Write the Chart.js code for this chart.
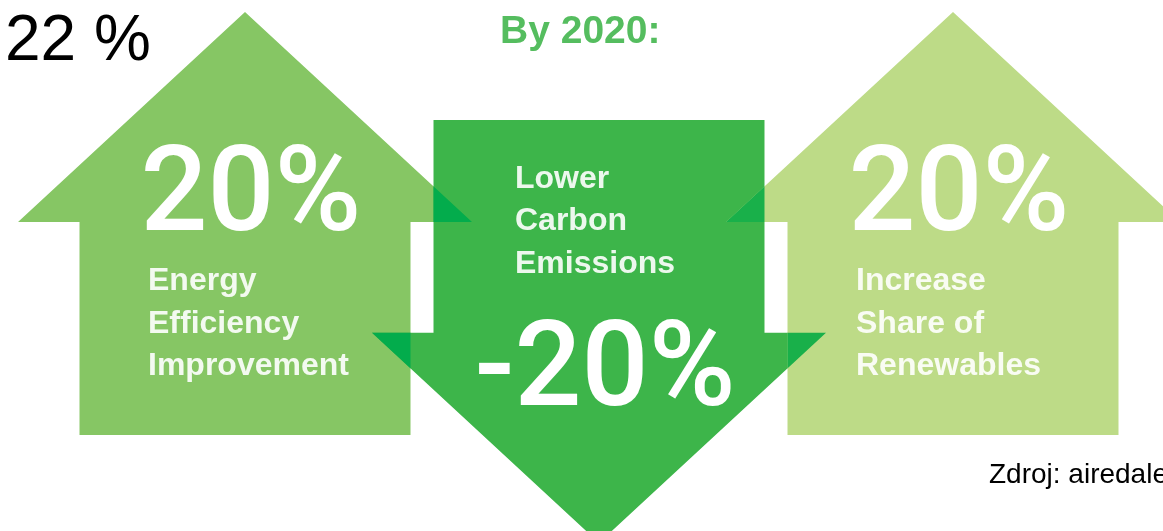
<!DOCTYPE html>
<html>
<head>
<meta charset="utf-8">
<script src="https://cdn.jsdelivr.net/npm/chart.js@4.4.1/dist/chart.umd.min.js"></script>
<style>
  html, body { margin: 0; padding: 0; background: #fff; }
  #wrap { width: 1163px; height: 531px; position: relative; }
</style>
</head>
<body>
<div id="wrap"><canvas id="chart"></canvas></div>
<script>
// --------------------
// DATA
// --------------------
const categories = [
  ["Energy", "Efficiency", "Improvement"],
  ["Lower", "Carbon", "Emissions"],
  ["Increase", "Share of", "Renewables"]
];
const changes = [20, -20, 20];      // % change by 2020
const startLevels = [0, 14.9, 0];   // where each arrow starts on the hidden axis
const headline = "By 2020:";
const cornerValue = "22 %";
const source = "Zdroj: airedale";

const arrowColors = ["#86c664", "#3db54a", "#bddb87"];
const overlapColors = ["#03ac4c", "#19b04a"];

// --------------------
// ARROWS
// --------------------
function arrowGeom(chart, bar, i) {
  const yScale = chart.scales.y;
  const { x, width } = bar.getProps(["x", "width"], true);
  const base = yScale.getPixelForValue(startLevels[i]);
  const tip = yScale.getPixelForValue(startLevels[i] + changes[i]);
  return { x, width, base, tip };
}

function arrowPath(g) {
  const dir = g.base > g.tip ? 1 : -1;
  const half = g.width / 2;
  const headHalf = 227;
  const headLen = 210;
  const neck = g.tip + dir * headLen;
  const p = new Path2D();
  p.moveTo(g.x - half, g.base);
  p.lineTo(g.x - half, neck);
  p.lineTo(g.x - headHalf, neck);
  p.lineTo(g.x, g.tip);
  p.lineTo(g.x + headHalf, neck);
  p.lineTo(g.x + half, neck);
  p.lineTo(g.x + half, g.base);
  p.closePath();
  return p;
}

const arrowPlugin = {
  id: "arrows",
  afterDatasetsDraw(chart) {
    const ctx = chart.ctx;
    const bars = chart.getDatasetMeta(0).data;
    const geoms = bars.map((b, i) => arrowGeom(chart, b, i));
    const paths = geoms.map(arrowPath);

    ctx.save();
    paths.forEach((p, i) => {
      ctx.fillStyle = arrowColors[i];
      ctx.fill(p);
    });
    // darker green where neighbouring arrows overlap
    for (let i = 0; i < paths.length - 1; i++) {
      ctx.save();
      ctx.clip(paths[i]);
      ctx.fillStyle = overlapColors[i];
      ctx.fill(paths[i + 1]);
      ctx.restore();
    }

    // texts inside arrows
    geoms.forEach((g, i) => {
      const up = changes[i] > 0;
      const big = changes[i] + "%";
      const bigY = up ? g.tip + 218 : g.base + 285;
      const smallX = up ? g.x - 97 : g.x - 84;
      const smallY = up ? g.tip + 278 : g.base + 68;

      ctx.fillStyle = "#ffffff";
      ctx.textAlign = "center";
      ctx.textBaseline = "alphabetic";
      ctx.font = "500 118px Roboto";
      ctx.fillText(big, g.x + 6, bigY);

      ctx.fillStyle = "rgba(255,255,255,0.9)";
      ctx.textAlign = "left";
      ctx.font = "bold 32px 'Liberation Sans', Arial";
      categories[i].forEach((line, k) => {
        ctx.fillText(line, smallX, smallY + k * 42.5);
      });
    });

    // header and notes
    ctx.textAlign = "left";
    ctx.fillStyle = "#000000";
    ctx.font = "64px 'Liberation Sans', Arial";
    ctx.fillText(cornerValue, 5, 60);

    ctx.fillStyle = "#55bd5f";
    ctx.font = "bold 39px 'Liberation Sans', Arial";
    ctx.fillText(headline, 500, 43);

    ctx.fillStyle = "#000000";
    ctx.font = "28px 'Liberation Sans', Arial";
    ctx.fillText(source, 989, 483);
    ctx.restore();
  }
};

// --------------------
// CHART
// --------------------
new Chart(document.getElementById("chart").getContext("2d"), {
  type: "bar",
  data: {
    labels: categories.map(c => c.join(" ")),
    datasets: [{
      data: changes.map((v, i) => [startLevels[i], startLevels[i] + v]),
      backgroundColor: "rgba(0,0,0,0)",
      borderWidth: 0,
      barPercentage: 0.935,
      categoryPercentage: 1
    }]
  },
  options: {
    responsive: true,
    maintainAspectRatio: false,
    animation: false,
    layout: { padding: { left: 68, right: 33, top: 0, bottom: 0 } },
    plugins: {
      legend: { display: false },
      tooltip: { enabled: false },
      title: { display: false }
    },
    scales: {
      x: { display: false },
      y: { display: false, min: -4.54, max: 20.57 }
    }
  },
  plugins: [arrowPlugin]
});
</script>
</body>
</html>
